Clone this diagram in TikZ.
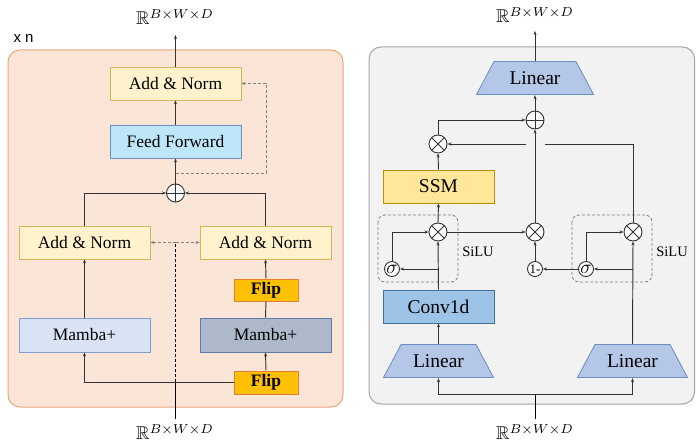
\documentclass[tikz,border=0pt]{standalone}
\usepackage{amssymb}
\usepackage{fontspec}
\setmainfont{Liberation Serif}
\newfontfamily\arialf{Liberation Sans}
\usetikzlibrary{arrows.meta}
\definecolor{lpanel}{HTML}{FBE5D6}
\definecolor{lpanelb}{HTML}{E9A77E}
\definecolor{rpanel}{HTML}{F2F2F2}
\definecolor{rpanelb}{HTML}{A6A6A6}
\definecolor{anfill}{HTML}{FFF2CC}
\definecolor{anb}{HTML}{D6B656}
\definecolor{fffill}{HTML}{BDE7F8}
\definecolor{ffb}{HTML}{6C8EBF}
\definecolor{mlfill}{HTML}{DAE3F3}
\definecolor{mlb}{HTML}{7F9FCF}
\definecolor{mrfill}{HTML}{ADB9CA}
\definecolor{mrb}{HTML}{5C7BA8}
\definecolor{flipfill}{HTML}{FFC000}
\definecolor{flipb}{HTML}{ED7D31}
\definecolor{linfill}{HTML}{B4C7E7}
\definecolor{linb}{HTML}{6C8EBF}
\definecolor{ssmfill}{HTML}{FFE699}
\definecolor{ssmb}{HTML}{BF9000}
\definecolor{convfill}{HTML}{9DC3E6}
\definecolor{convb}{HTML}{41719C}
\definecolor{ln}{HTML}{333333}
\tikzset{
  box/.style={draw, line width=0.8pt, minimum width=131pt, minimum height=33pt, inner sep=0pt, font=\fontsize{17.5}{20}\selectfont},
  rbox/.style={draw, line width=0.8pt, minimum width=111pt, minimum height=33pt, inner sep=0pt, font=\fontsize{19.5}{22}\selectfont},
  flipbox/.style={draw=flipb, fill=flipfill, line width=0.8pt, minimum width=64pt, minimum height=22pt, inner sep=0pt, font=\fontsize{17.5}{18}\selectfont\bfseries},
  lin/.style={inner sep=0pt, minimum width=111pt, minimum height=34pt, font=\fontsize{19.5}{22}\selectfont,
    path picture={\filldraw[draw=linb, fill=linfill, line width=0.8pt]
      ([shift={(18pt,-0.5pt)}]path picture bounding box.north west) --
      ([shift={(-18pt,-0.5pt)}]path picture bounding box.north east) --
      ([shift={(-0.5pt,0.5pt)}]path picture bounding box.south east) --
      ([shift={(0.5pt,0.5pt)}]path picture bounding box.south west) -- cycle;}},
  opl/.style={circle, draw=ln, fill=white, line width=0.9pt, minimum size=18pt, inner sep=0pt,
    path picture={\draw[ln, line width=0.9pt] (path picture bounding box.west) -- (path picture bounding box.east) (path picture bounding box.north) -- (path picture bounding box.south);}},
  otm/.style={circle, draw=ln, fill=white, line width=0.9pt, minimum size=18pt, inner sep=0pt,
    path picture={\draw[ln, line width=0.9pt] (path picture bounding box.north west) -- (path picture bounding box.south east) (path picture bounding box.north east) -- (path picture bounding box.south west);}},
  smallc/.style={circle, draw=ln, fill=white, line width=0.9pt, minimum size=15pt, inner sep=0pt, font=\fontsize{13}{14}\selectfont},
  conn/.style={draw=ln, line width=0.95pt},
  dconn/.style={draw=gray, line width=0.95pt, dashed, dash pattern=on 3pt off 2pt},
  silubox/.style={draw=gray, line width=0.8pt, dashed, dash pattern=on 3pt off 2pt, rounded corners=7pt},
  lbl/.style={inner sep=1pt},
  >={Stealth[length=4pt,width=3pt]}
}
\newcommand{\rbwd}{\scalebox{1.85}{$\mathbb{R}^{B\times W\times D}$}}
\begin{document}
\begin{tikzpicture}[x=1pt,y=-1pt]
\useasboundingbox (0,0) rectangle (696,443);
% panels
\draw[lpanelb, fill=lpanel, line width=1pt, rounded corners=12pt] (8,50) rectangle (343,407);
\draw[rpanelb, fill=rpanel, line width=1pt, rounded corners=12pt] (369,47) rectangle (694.5,404);
\node[font=\arialf\fontsize{15}{17}\selectfont, anchor=west] (xn) at (10,38) {x n};

% ---------- left ----------
\node[lbl] (outL) at (175,17) {\rbwd};
\node[lbl] (inL) at (175,432) {\rbwd};
\node[box, draw=anb, fill=anfill] (anTop) at (175.5,83.5) {Add \& Norm};
\node[box, draw=ffb, fill=fffill] (ff) at (175.5,141.5) {Feed Forward};
\node[opl] (opL) at (175.5,193) {};
\node[box, draw=anb, fill=anfill] (anL) at (84.5,242.5) {Add \& Norm};
\node[box, draw=anb, fill=anfill] (anR) at (265.5,242.5) {Add \& Norm};
\node[flipbox] (flipU) at (266,290) {Flip};
\node[box, draw=mlb, fill=mlfill, minimum height=34pt] (mambaL) at (84.5,335) {Mamba+};
\node[box, draw=mrb, fill=mrfill, minimum height=34pt] (mambaR) at (265.5,335) {Mamba+};
\node[flipbox, minimum height=23pt] (flipD) at (266,382.5) {Flip};

\coordinate (dj) at (175.5,173);
\coordinate (dm) at (175.5,242.5);
\coordinate (jn) at (175.5,382.5);

\draw[conn,->] (anTop.north) -- (175.5,35);
\draw[conn,->] (ff.north) -- (anTop.south);
\draw[conn,->] (opL.north) -- (ff.south);
\draw[dconn,->] (dj) -- (266,173) -- (266,83.5) -- (anTop.east);
\draw[conn,->] (anL.north) |- (opL.west);
\draw[conn,->] (anR.north) |- (opL.east);
\draw[dconn,->] (dm) -- (anL.east);
\draw[dconn,->] (dm) -- (anR.west);
\draw[dconn, draw=black] (jn) -- (dm);
\draw[conn, draw=black] (175.5,419) -- (jn);
\draw[conn,->] (flipD.west) -| (mambaL.south);
\draw[conn,->] (mambaL.north) -- (anL.south);
\draw[conn,->] (flipD.north) -- (mambaR.south);
\draw[conn] (mambaR.north) -- (flipU.south);
\draw[conn,->] (flipU.north) -- (anR.south);

% ---------- right ----------
\node[lbl] (outR) at (535,15) {\rbwd};
\node[lbl] (inR) at (535,432) {\rbwd};
\node[lin, minimum width=118pt, minimum height=34pt] (linT) at (535,78) {Linear};
\node[opl] (opR) at (535,120) {};
\node[otm] (otT) at (438,144) {};
\node[rbox, draw=ssmb, fill=ssmfill] (ssm) at (438.5,186.5) {SSM};
\draw[silubox] (378,215) rectangle (458,282);
\draw[silubox] (572,215) rectangle (652,282);
\node[font=\fontsize{14.5}{16}\selectfont] (siluL) at (478,252) {SiLU};
\node[font=\fontsize{14.5}{16}\selectfont] (siluR) at (672,252) {SiLU};
\node[otm] (otL) at (438,232) {};
\node[otm] (otM) at (535,232) {};
\node[otm] (otR) at (633,232) {};
\node[smallc] (sigL) at (392,269) {\scalebox{1.6}{$\sigma$}};
\node[smallc] (one) at (535,269) {1-};
\node[smallc] (sigR) at (586,269) {\scalebox{1.6}{$\sigma$}};
\node[rbox, draw=convb, fill=convfill] (conv) at (438.5,306.5) {Conv1d};
\node[lin] (linL) at (438.5,361) {Linear};
\node[lin] (linR) at (632.5,361) {Linear};

\coordinate (gapR) at (545,144);
\coordinate (gapL) at (526,144);
\coordinate (bL) at (438,269);
\coordinate (bR) at (633,269);
\coordinate (jR) at (535,394);

\draw[conn,->] (linT.north) -- (535,31);
\draw[conn,->] (opR.north) -- (linT.south);
\draw[conn,->] (otT.north) |- (opR.west);
\draw[conn,->] (ssm.north) -- (otT.south);
\draw[conn,->] (otM.north) -- (opR.south);
\draw[conn] (otR.north) |- (gapR);
\draw[conn,->] (gapL) -- (otT.east);
\draw[conn,->] (conv.north) -- (otL.south);
\draw[conn,->] (bL) -- (sigL.east);
\draw[conn,->] (sigL.north) |- (otL.west);
\draw[conn,->] (otL.east) -- (otM.west);
\draw[conn,->] (otL.north) -- (ssm.south);
\draw[conn,->] (one.north) -- (otM.south);
\draw[conn,->] (sigR.west) -- (one.east);
\draw[conn,->] (linR.north) -- (otR.south);
\draw[conn,->] (bR) -- (sigR.east);
\draw[conn,->] (sigR.north) |- (otR.west);
\draw[conn,->] (linL.north) -- (conv.south);
\draw[conn, draw=black] (535,419) -- (jR);
\draw[conn,->] (jR) -| (linL.south);
\draw[conn,->] (jR) -| (linR.south);
\end{tikzpicture}
\end{document}
